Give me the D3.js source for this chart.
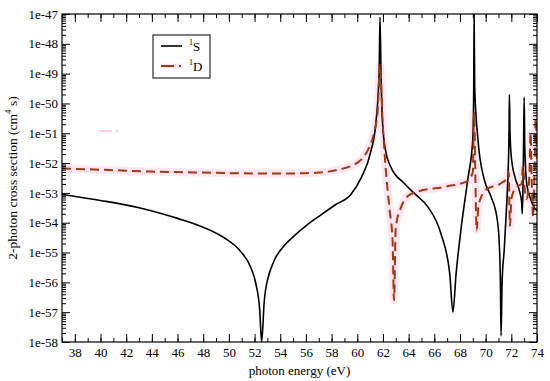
<!DOCTYPE html>
<html>
<head>
	<meta charset="utf-8">
	<script src="https://cdn.jsdelivr.net/npm/d3@7"></script>
	<style>
	body{
		margin: 0;
		background: #fff;
	}
	svg text{
		font-family: "Liberation Serif", "Times New Roman", serif;
		fill: #000;
	}
	</style>
</head>
<body>
<svg id="chart" width="550" height="381"></svg>
<script>
// photon energy (eV) and 2-photon cross section (cm^4 s)
var sEnergy = [37, 40, 43, 46, 48, 49.6, 50.9, 51.7, 52.1, 52.4, 52.55, 52.75, 53.1, 53.35, 53.6, 54.2, 54.8, 56.0, 57.15, 58.3, 59.5, 60.3, 61.06, 61.45, 61.7, 61.77,
	61.85, 61.97, 62.2, 62.6, 63.65, 64.4, 65.5, 66.5, 67.2, 67.45, 67.7, 68.1, 68.6, 69.0, 69.07, 69.1,
	69.15, 69.4, 69.9, 70.4, 70.9, 71.05, 71.15, 71.2, 71.28, 71.45, 71.65, 71.75, 71.82, 71.85,
	71.9, 72.0, 72.3, 72.6, 72.8, 72.85, 72.9, 72.95, 73.0, 73.05, 73.2, 73.5, 73.8, 74.0];
var sCross = [8.9e-54, 5.6e-54, 3.2e-54, 1.4e-54, 7.1e-55, 3.2e-55, 1.1e-55, 3.2e-56, 9.0e-57, 1.2e-57, 1e-58, 2.2e-57, 1.7e-56, 3.5e-56, 6.3e-56, 1.5e-55, 2.8e-55, 7.9e-55, 1.8e-54, 4.0e-54, 8.9e-54, 3.2e-53, 2.5e-52, 2.2e-51, 1e-49, 7.9e-48,
	1e-49, 2.2e-51, 2.7e-52, 7.6e-53, 2.1e-53, 1e-53, 3.4e-54, 4.5e-55, 2.0e-56, 1e-57, 2.0e-56, 7.1e-55, 2.7e-53, 6.3e-52, 3.2e-50, 1e-47,
	3.2e-50, 6.3e-52, 2.7e-53, 7.9e-54, 1.3e-54, 2.5e-55, 1e-56, 1.6e-58, 1e-56, 1.3e-55, 5.0e-54, 5.0e-53, 1e-51, 2.0e-50,
	1e-51, 1.6e-52, 3.2e-53, 1.3e-53, 5.0e-54, 2.0e-54, 1e-53, 3.2e-52, 1.6e-50, 3.2e-52, 2.0e-53, 6.3e-54, 3.2e-54, 2.5e-54];

var dEnergy = [37, 40, 44, 48, 52, 55, 57, 58.5, 59.5, 60.3, 60.9, 61.3, 61.6, 61.77, 61.95, 62.2, 62.5, 62.75, 62.86, 63.0, 63.4, 63.95, 64.6,
	66.8, 68.6, 69.0, 69.1, 69.2, 69.3, 69.45, 70.05, 71.2, 71.7, 71.8, 71.85, 71.9, 72.0, 72.4, 72.8, 72.9, 73.05,
	73.2, 73.4, 73.5, 73.6, 73.7, 73.8, 73.9, 74.0];
var dCross = [6.6e-53, 6.0e-53, 5.2e-53, 4.8e-53, 4.5e-53, 4.5e-53, 4.8e-53, 6.0e-53, 7.9e-53, 1.3e-52, 3.2e-52, 1e-51, 6.3e-51, 2.0e-49, 4.0e-51, 7.9e-53, 3.2e-54, 2.5e-55, 2.5e-57, 7.1e-55, 3.2e-54, 7.9e-54, 1.07e-53,
	1.6e-53, 2.5e-53, 5.0e-53, 5.0e-51, 3.2e-53, 5.6e-55, 4.0e-54, 1.3e-53, 2.1e-53, 3.2e-53, 5.0e-53, 3.2e-54, 7.9e-55, 6.3e-54, 1.6e-53, 2.0e-53, 7.9e-53, 1.3e-53,
	6.3e-54, 3.2e-53, 1e-51, 1.6e-53, 1.6e-54, 3.2e-53, 3.2e-51, 1e-52];

var xTicks = d3.range(38, 75, 2);
var yExponents = d3.range(-58, -46);
var seriesNames = ["1", "S", "1", "D"];

(function(){

	var svg = d3.select("#chart");
	var plotL = 62, plotR = 537, plotT = 14, plotB = 342;

	var x = d3.scaleLinear().domain([37, 74]).range([plotL, plotR]);
	var y = d3.scaleLog().domain([1e-58, 1e-47]).range([plotB, plotT]);

	svg.append("clipPath").attr("id", "plotclip")
		.append("rect")
		.attr("x", plotL).attr("y", plotT)
		.attr("width", plotR - plotL).attr("height", plotB - plotT);

	var sData = sEnergy.map(function(e, i){ return [e, sCross[i]]; });
	var dData = dEnergy.map(function(e, i){ return [e, dCross[i]]; });

	var line = d3.line()
		.x(function(d){ return x(d[0]); })
		.y(function(d){ return y(d[1]); })
		.curve(d3.curveMonotoneX);

	var plot = svg.append("g").attr("clip-path", "url(#plotclip)");

	// pink shading behind the 1D curve
	plot.append("path")
		.attr("d", line(dData))
		.attr("fill", "none")
		.attr("stroke", "#ffe6f4")
		.attr("stroke-width", 8)
		.attr("stroke-linejoin", "round");

	plot.append("path")
		.attr("d", line(sData))
		.attr("fill", "none")
		.attr("stroke", "#000")
		.attr("stroke-width", 1.6);

	plot.append("path")
		.attr("d", line(dData))
		.attr("fill", "none")
		.attr("stroke", "#9a3c12")
		.attr("stroke-width", 2)
		.attr("stroke-dasharray", "9,5");

	// stray pink mark
	svg.append("line")
		.attr("x1", 99).attr("x2", 112).attr("y1", 131).attr("y2", 131)
		.attr("stroke", "#ffb8e2").attr("stroke-width", 1.5);
	svg.append("line")
		.attr("x1", 116).attr("x2", 118).attr("y1", 131).attr("y2", 131)
		.attr("stroke", "#ffb8e2").attr("stroke-width", 1.5);

	// axes, ticks inward on all sides
	var xMinor = d3.range(37, 75, 1);
	var yMinor = [];
	yExponents.slice(0, -1).forEach(function(e){
		for (var m = 2; m < 10; m++) yMinor.push(m * Math.pow(10, e));
	});
	var yMajor = yExponents.map(function(e){ return Math.pow(10, e); });

	function addAxis(axis, tx, ty){
		return svg.append("g")
			.attr("transform", "translate(" + tx + "," + ty + ")")
			.call(axis)
			.call(function(g){
				g.attr("font-family", null);
				g.select(".domain").remove();
				g.selectAll("line").attr("stroke", "#000").attr("stroke-width", 1);
				g.selectAll("text").attr("font-size", "13px");
			});
	}

	addAxis(d3.axisBottom(x).tickValues(xTicks).tickSize(-8).tickPadding(6).tickFormat(d3.format("d")), 0, plotB);
	addAxis(d3.axisBottom(x).tickValues(xMinor).tickSize(-4).tickFormat(""), 0, plotB);
	addAxis(d3.axisTop(x).tickValues(xTicks).tickSize(-8).tickFormat(""), 0, plotT);
	addAxis(d3.axisTop(x).tickValues(xMinor).tickSize(-4).tickFormat(""), 0, plotT);

	addAxis(d3.axisLeft(y).tickValues(yMajor).tickSize(-8).tickPadding(4)
		.tickFormat(function(d){ return "1e" + Math.round(Math.log10(d)); }), plotL, 0);
	addAxis(d3.axisLeft(y).tickValues(yMinor).tickSize(-4).tickFormat(""), plotL, 0);
	addAxis(d3.axisRight(y).tickValues(yMajor).tickSize(-8).tickFormat(""), plotR, 0);
	addAxis(d3.axisRight(y).tickValues(yMinor).tickSize(-4).tickFormat(""), plotR, 0);

	svg.append("rect")
		.attr("x", plotL).attr("y", plotT)
		.attr("width", plotR - plotL).attr("height", plotB - plotT)
		.attr("fill", "none").attr("stroke", "#000").attr("stroke-width", 1.2);

	// axis titles
	svg.append("text")
		.attr("x", (plotL + plotR) / 2).attr("y", 375)
		.attr("text-anchor", "middle").attr("font-size", "13px")
		.text("photon energy (eV)");

	var yt = svg.append("text")
		.attr("transform", "translate(17," + (plotT + plotB) / 2 + ") rotate(-90)")
		.attr("text-anchor", "middle").attr("font-size", "13.5px");
	yt.append("tspan").text("2-photon cross section (cm");
	yt.append("tspan").attr("font-size", "9px").attr("dy", -6).text("4");
	yt.append("tspan").attr("dy", 6).text(" s)");

	// legend
	var lg = svg.append("g").attr("transform", "translate(153,35)");
	lg.append("rect").attr("width", 57).attr("height", 43)
		.attr("fill", "#fff").attr("stroke", "#000").attr("stroke-width", 1);
	lg.append("line").attr("x1", 8).attr("x2", 29).attr("y1", 11).attr("y2", 11)
		.attr("stroke", "#000").attr("stroke-width", 1.6);
	lg.append("line").attr("x1", 8).attr("x2", 29).attr("y1", 31).attr("y2", 31)
		.attr("stroke", "#ffe6f4").attr("stroke-width", 5);
	lg.append("line").attr("x1", 8).attr("x2", 29).attr("y1", 31).attr("y2", 31)
		.attr("stroke", "#9a3c12").attr("stroke-width", 2).attr("stroke-dasharray", "13,5,2,5");
	[0, 1].forEach(function(i){
		var t = lg.append("text").attr("x", 36).attr("y", 16 + i * 20).attr("font-size", "13px");
		t.append("tspan").attr("font-size", "8px").attr("dy", -6).text(seriesNames[i * 2]);
		t.append("tspan").attr("dy", 6).text(seriesNames[i * 2 + 1]);
	});

})();
</script>
</body>
</html>
